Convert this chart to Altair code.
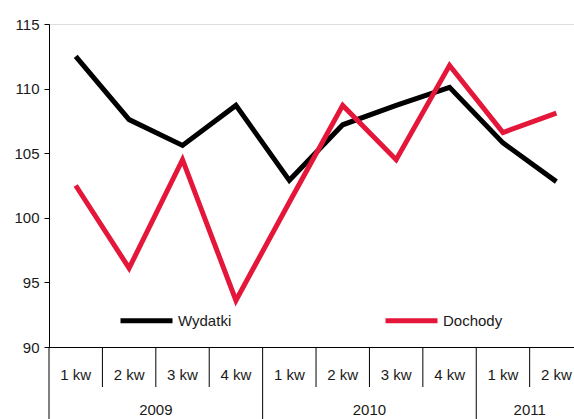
import altair as alt
import pandas as pd

# Quarterly indices, two series
quarters = ["1 kw", "2 kw", "3 kw", "4 kw", "1 kw", "2 kw", "3 kw", "4 kw", "1 kw", "2 kw"]
years = ["2009", "2009", "2009", "2009", "2010", "2010", "2010", "2010", "2011", "2011"]
wydatki = [112.5, 107.6, 105.6, 108.7, 102.9, 107.2, 108.7, 110.1, 105.8, 102.8]
dochody = [102.5, 96.1, 104.5, 93.6, 101.2, 108.7, 104.5, 111.8, 106.6, 108.1]
series_names = ["Wydatki", "Dochody"]
series_colors = ["#000000", "#E4173B"]

FONT = "Liberation Sans"
W, H = 525, 323

idx = list(range(len(quarters)))
lines_df = pd.DataFrame({
    "i": idx * 2,
    "value": wydatki + dochody,
    "series": [series_names[0]] * len(idx) + [series_names[1]] * len(idx),
})

q_df = pd.DataFrame({"i": idx, "q": quarters})

# year groups: centre position and boundaries
year_labels = []
year_centers = []
year_bounds = [-0.5]
start = 0
for k in range(1, len(years) + 1):
    if k == len(years) or years[k] != years[start]:
        year_labels.append(years[start])
        year_centers.append((start + k - 1) / 2)
        year_bounds.append(k - 0.5)
        start = k
y_df = pd.DataFrame({"i": year_centers, "year": year_labels})
long_div = pd.DataFrame({"i": year_bounds[:-1]})
short_div = pd.DataFrame({"i": [b + 0.5 for b in idx[:-1] if (b + 0.5) not in year_bounds]})

x_scale = alt.Scale(domain=[-0.5, 9.33], nice=False, zero=False)
x_enc = alt.X("i:Q", scale=x_scale,
              axis=alt.Axis(labels=False, ticks=False, grid=False, title=None,
                            domainColor="#000000", domainWidth=1))

lines = alt.Chart(lines_df).mark_line(strokeWidth=5, strokeJoin="miter").encode(
    x=x_enc,
    y=alt.Y("value:Q",
            scale=alt.Scale(domain=[90, 115], nice=False, zero=False),
            axis=alt.Axis(values=[90, 95, 100, 105, 110, 115], grid=False, title=None,
                          tickSize=5, tickColor="#000000", domainColor="#000000",
                          labelFont=FONT, labelFontSize=15, labelColor="#1a1a1a",
                          labelPadding=5)),
    color=alt.Color("series:N",
                    scale=alt.Scale(domain=series_names, range=series_colors),
                    legend=alt.Legend(title=None, orient="none", legendX=69, legendY=268,
                                      direction="horizontal", symbolType="stroke",
                                      symbolStrokeWidth=5, symbolSize=2704,
                                      labelFont=FONT, labelFontSize=15, labelColor="#1a1a1a",
                                      labelOffset=3, columnPadding=143)),
    order="i:Q",
)

short_rules = alt.Chart(short_div).mark_rule(color="#000000", strokeWidth=1).encode(
    x=alt.X("i:Q", scale=x_scale), y=alt.value(H), y2=alt.value(H + 40))
long_rules = alt.Chart(long_div).mark_rule(color="#000000", strokeWidth=1).encode(
    x=alt.X("i:Q", scale=x_scale), y=alt.value(H), y2=alt.value(H + 80))

q_text = alt.Chart(q_df).mark_text(font=FONT, fontSize=15, color="#1a1a1a",
                                   baseline="middle").encode(
    x=alt.X("i:Q", scale=x_scale), y=alt.value(H + 28), text="q:N")
y_text = alt.Chart(y_df).mark_text(font=FONT, fontSize=15, color="#1a1a1a",
                                   baseline="middle").encode(
    x=alt.X("i:Q", scale=x_scale), y=alt.value(H + 63), text="year:N")

chart = alt.layer(lines, short_rules, long_rules, q_text, y_text).properties(
    width=W, height=H,
    autosize=alt.AutoSizeParams(type="none"),
    padding={"left": 49, "top": 24, "right": 0, "bottom": 72},
).configure_view(stroke=None).configure(background="white")

chart.save("out.html", embed_options={"renderer": "svg", "actions": False})
